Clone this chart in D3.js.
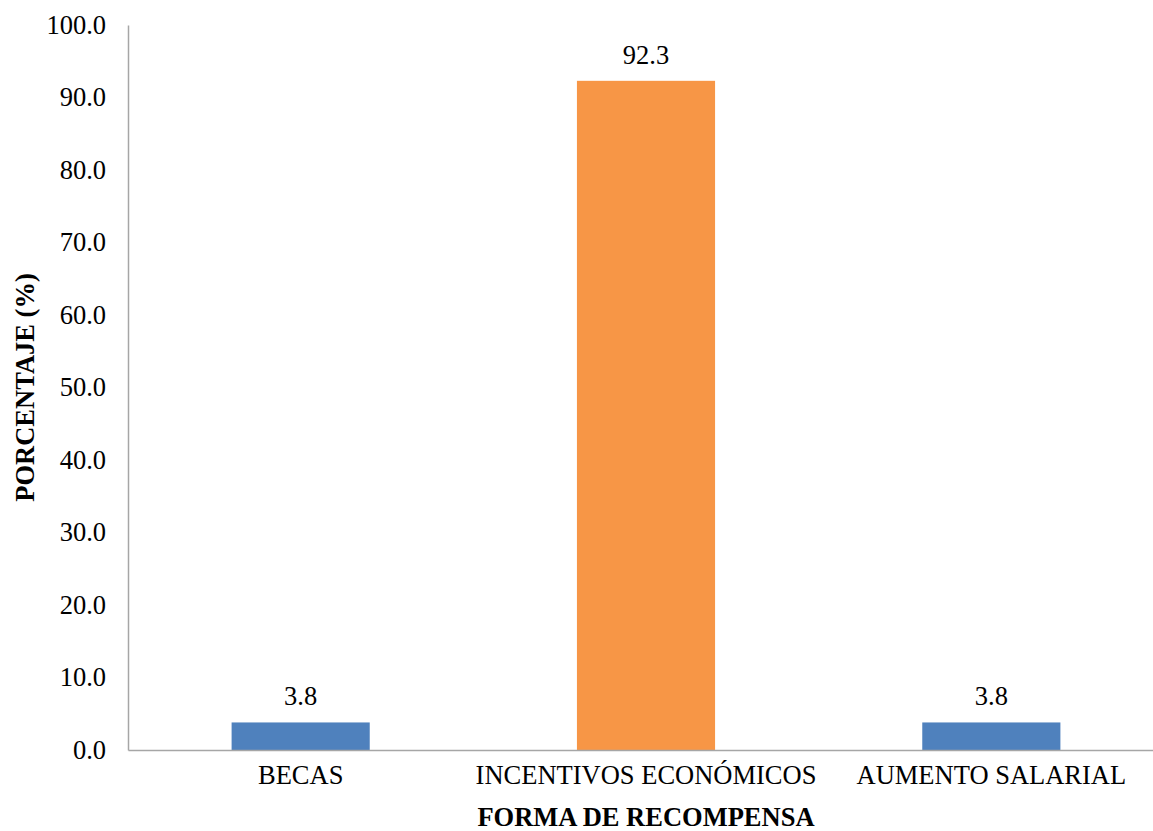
<!DOCTYPE html>
<html>
<head>
<meta charset="utf-8">
<script src="https://cdn.jsdelivr.net/npm/d3@7"></script>
<style>
  html, body { margin: 0; padding: 0; background: #fff; }
  svg { display: block; }
  svg text { font-family: "Liberation Serif", "Times New Roman", serif; fill: #000; }
</style>
</head>
<body>
<svg id="chart" width="1153" height="831"></svg>
<script>
// Forma de recompensa preferida (porcentaje de respuestas)
const categories = ["BECAS", "INCENTIVOS ECONÓMICOS", "AUMENTO SALARIAL"];
const values = [3.8, 92.3, 3.8];
const barColors = ["#4F81BD", "#F79646", "#4F81BD"];
const yTicks = [0, 10, 20, 30, 40, 50, 60, 70, 80, 90, 100];
const xTitle = "FORMA DE RECOMPENSA";
const yTitle = "PORCENTAJE (%)";

const svg = d3.select("#chart");
const fontSize = 26.5;

const W = 1153, H = 831;
const x0 = 128, x1 = 1164;
const y0 = 750, y1 = 25;

const x = d3.scaleBand().domain(categories).range([x0, x1])
  .paddingInner(0.6).paddingOuter(0.3);
const y = d3.scaleLinear().domain([0, 100]).range([y0, y1]);

// Y axis: line plus labels, no tick marks
const yAxis = svg.append("g")
  .attr("transform", `translate(${x0},0)`)
  .call(d3.axisLeft(y).tickValues(yTicks).tickFormat(d3.format(".1f")).tickSize(0).tickPadding(22));
yAxis.attr("font-family", null);
yAxis.select(".domain").attr("stroke", "#a6a6a6").attr("stroke-width", 1.5);
yAxis.selectAll("text").style("font-size", fontSize + "px").attr("fill", "#000");

// Bars
svg.append("g").selectAll("rect")
  .data(values)
  .join("rect")
  .attr("x", (d, i) => x(categories[i]))
  .attr("y", d => y(d))
  .attr("width", x.bandwidth())
  .attr("height", d => y(0) - y(d))
  .attr("fill", (d, i) => barColors[i]);

// X axis line (drawn over bar bottoms)
const xAxis = svg.append("g")
  .attr("transform", `translate(0,${y0})`)
  .call(d3.axisBottom(x).tickSize(0).tickPadding(15).tickSizeOuter(0));
xAxis.attr("font-family", null);
xAxis.select(".domain").attr("stroke", "#a6a6a6").attr("stroke-width", 1.5);
xAxis.selectAll("text").style("font-size", fontSize + "px").attr("fill", "#000");

// Value labels
svg.append("g").selectAll("text")
  .data(values)
  .join("text")
  .attr("x", (d, i) => x(categories[i]) + x.bandwidth() / 2)
  .attr("y", d => y(d) - 17)
  .attr("text-anchor", "middle")
  .style("font-size", fontSize + "px")
  .text(d => d.toFixed(1));

// Axis titles
svg.append("text")
  .attr("x", x(categories[1]) + x.bandwidth() / 2)
  .attr("y", 826)
  .attr("text-anchor", "middle")
  .style("font-size", fontSize + "px")
  .attr("font-weight", "bold")
  .text(xTitle);

svg.append("text")
  .attr("transform", `translate(34,${(y0 + y1) / 2}) rotate(-90)`)
  .attr("text-anchor", "middle")
  .style("font-size", fontSize + "px")
  .attr("font-weight", "bold")
  .text(yTitle);
</script>
</body>
</html>
